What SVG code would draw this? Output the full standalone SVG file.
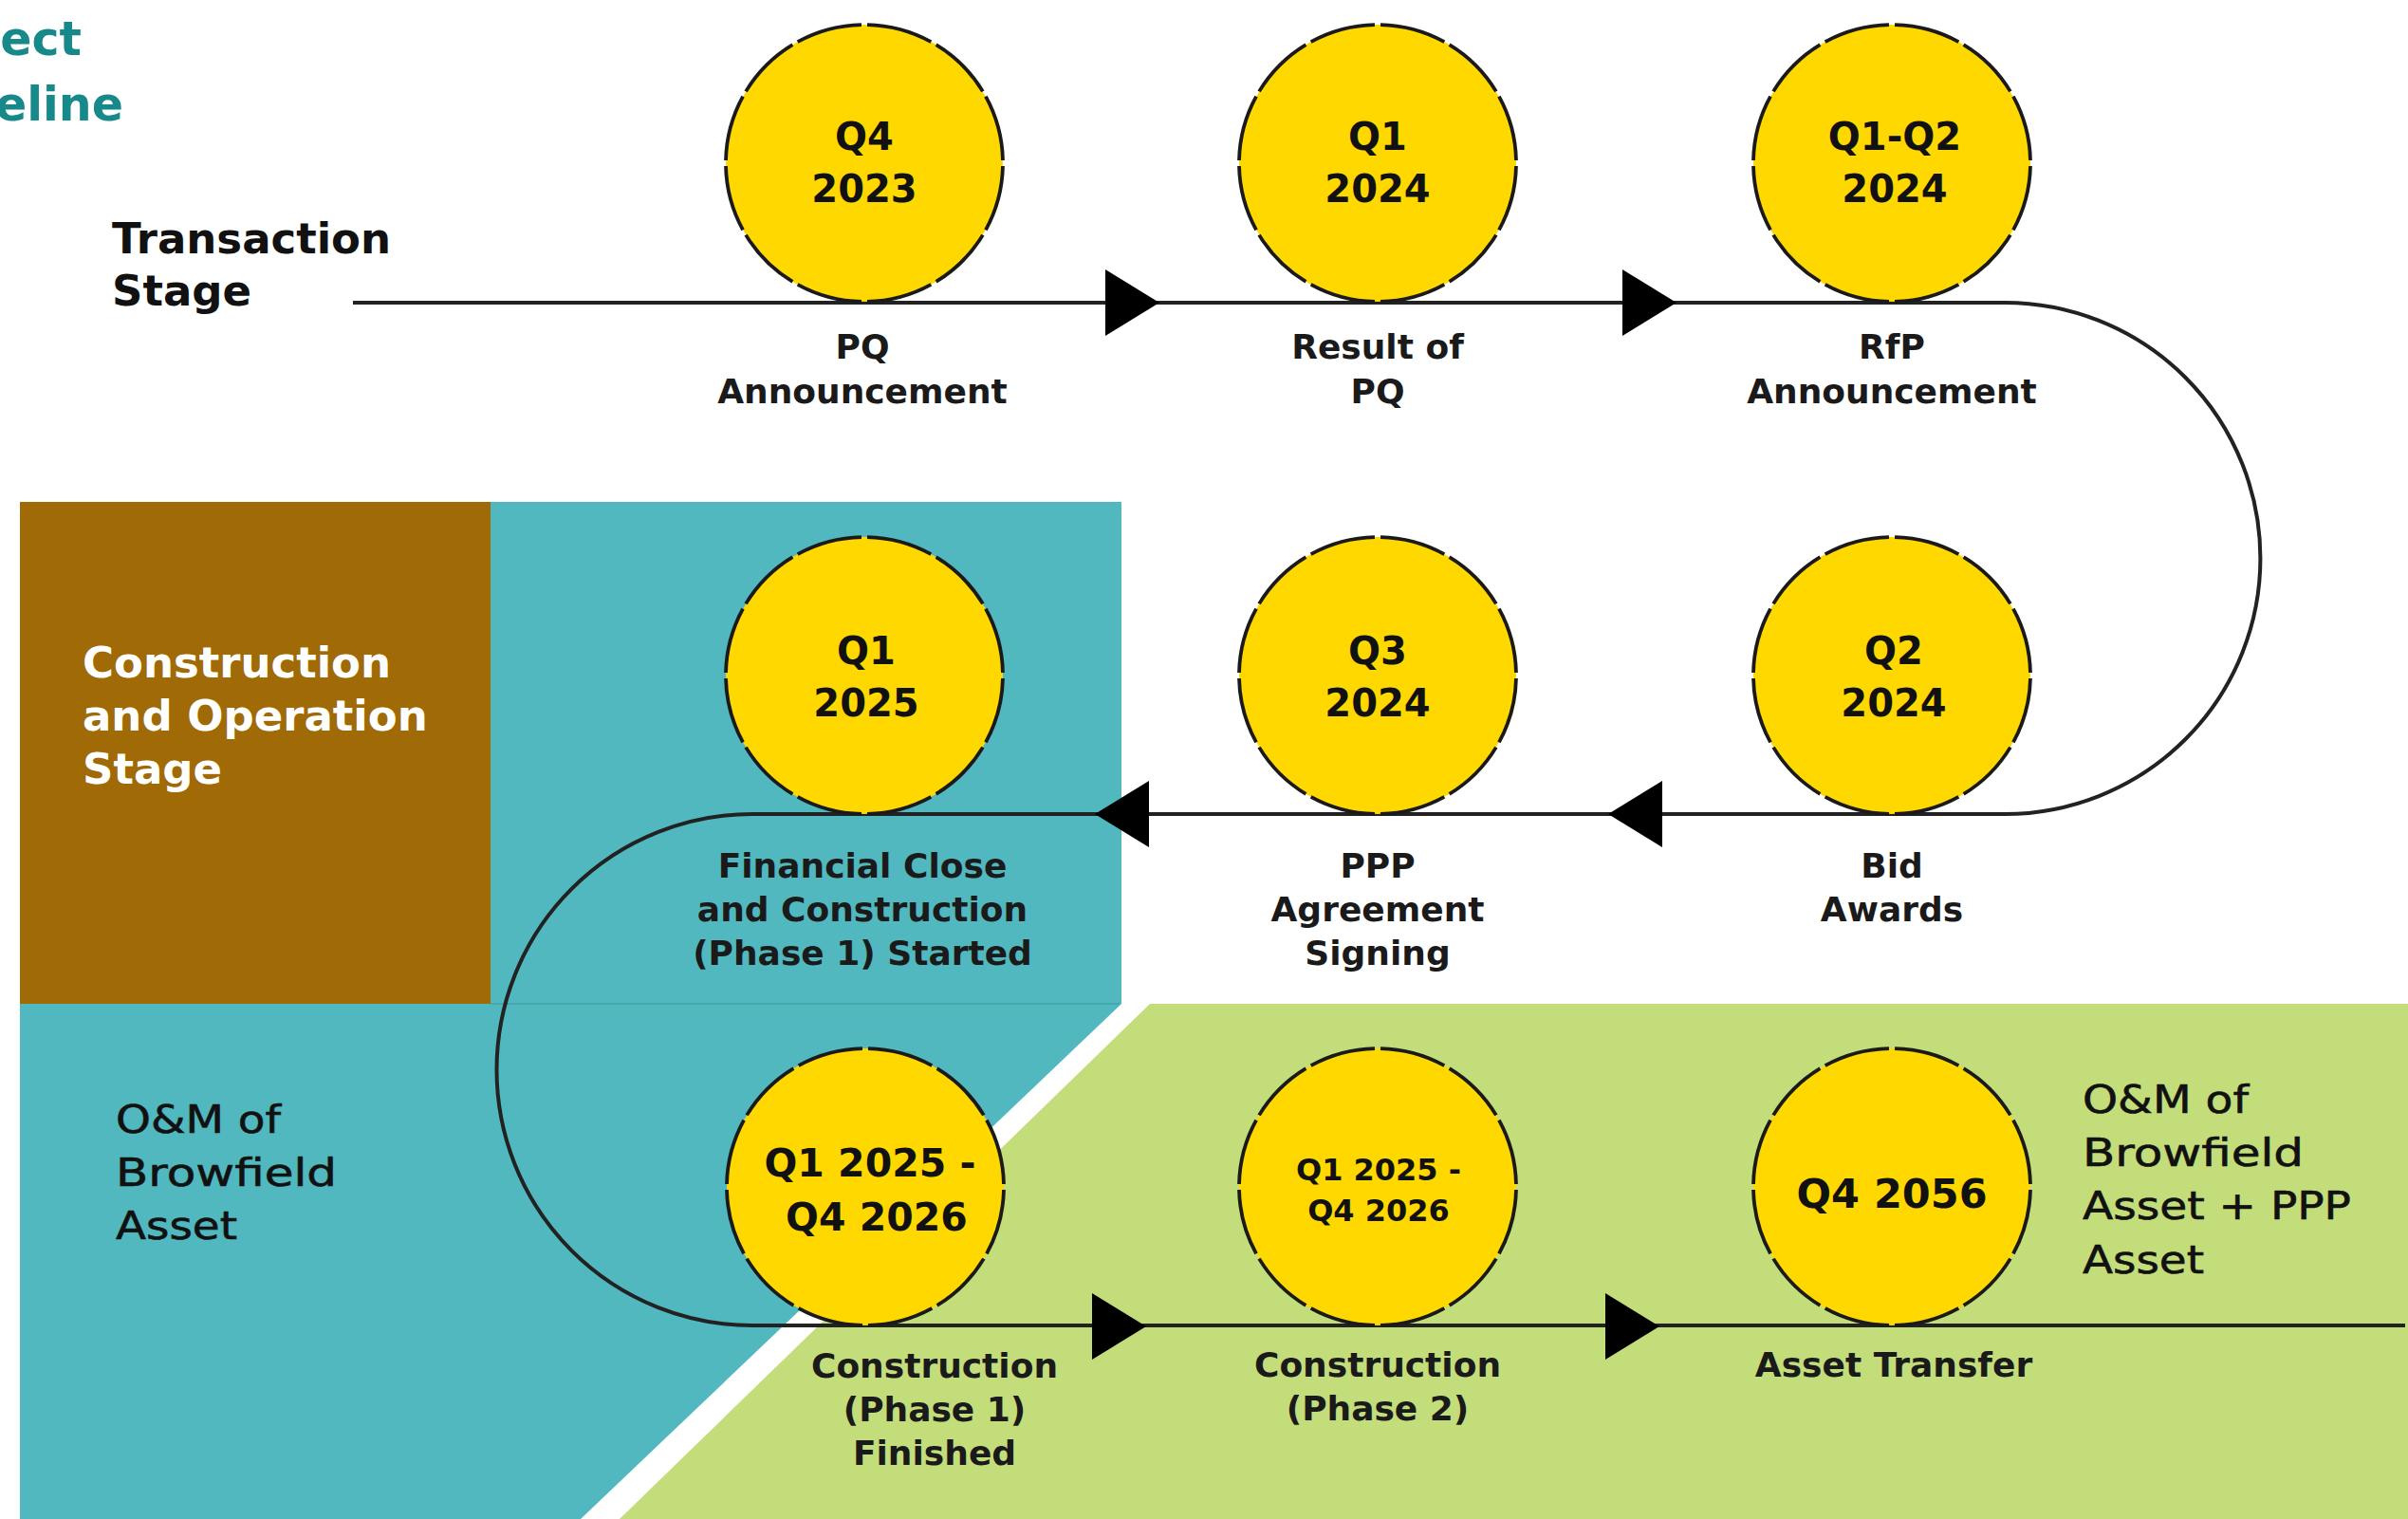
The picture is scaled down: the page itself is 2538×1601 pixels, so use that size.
<svg xmlns="http://www.w3.org/2000/svg" xmlns:xlink="http://www.w3.org/1999/xlink" width="2538" height="1601" viewBox="0 0 2538 1601">
<defs>
<style>
.bg-white{fill:#ffffff}
.brown{fill:#A06A06}
.teal{fill:#50B8BE}
.green{fill:#C4DD7B}
.title{font-family:"DejaVu Sans",sans-serif;font-weight:bold;font-size:49px;fill:#17898A}
.stage{font-family:"DejaVu Sans",sans-serif;font-weight:bold;font-size:45px;fill:#111}
.stage-w{font-family:"DejaVu Sans",sans-serif;font-weight:bold;font-size:45px;fill:#ffffff}
.om{font-family:"DejaVu Sans",sans-serif;font-size:41px;fill:#111;stroke:#111;stroke-width:0.6}
.date{font-family:"DejaVu Sans",sans-serif;font-weight:bold;font-size:40px;fill:#111;text-anchor:middle}
.label{font-family:"DejaVu Sans",sans-serif;font-weight:bold;font-size:36px;fill:#1a1a1a;text-anchor:middle}
.node circle{fill:#FFD800;stroke:#1a1a1a;stroke-width:3.8;stroke-dasharray:92 8;stroke-dashoffset:96}
.conn{fill:none;stroke:#222;stroke-width:4}
.arrow{fill:#000}
</style>
<path id="arrR" d="M0,-35 L57,0 L0,35 Z"/>
</defs>
<rect class="bg-white" x="0" y="0" width="2538" height="1601"/>

<g id="backgrounds">
<polygon class="teal" points="21,529 1182,529 1182,1058 612,1601 21,1601"/>
<rect class="brown" x="21" y="529" width="496" height="529"/>
<line x1="517" y1="1058" x2="1180" y2="1058" stroke="#45A6AC" stroke-width="2"/>
<polygon class="green" points="1212,1058 2538,1058 2538,1601 653,1601"/>
</g>

<g id="titles">
<text class="title" x="86" y="58" text-anchor="end">ect</text>
<text class="title" x="130" y="127" text-anchor="end">eline</text>
<g id="transaction-stage">
<text class="stage" x="118" y="267">Transaction</text>
<text class="stage" x="118" y="322">Stage</text>
</g>
<g id="construction-operation-stage">
<text class="stage-w" x="87" y="714">Construction</text>
<text class="stage-w" x="87" y="770">and Operation</text>
<text class="stage-w" x="87" y="826">Stage</text>
</g>
<g id="om-browfield">
<text class="om" x="122" y="1194" textLength="174" lengthAdjust="spacingAndGlyphs">O&amp;M of</text>
<text class="om" x="122" y="1250" textLength="233" lengthAdjust="spacingAndGlyphs">Browfield</text>
<text class="om" x="122" y="1306" textLength="128" lengthAdjust="spacingAndGlyphs">Asset</text>
</g>
<g id="om-browfield-ppp">
<text class="om" x="2195" y="1173" textLength="175" lengthAdjust="spacingAndGlyphs">O&amp;M of</text>
<text class="om" x="2195" y="1229" textLength="233" lengthAdjust="spacingAndGlyphs">Browfield</text>
<text class="om" x="2195" y="1285" textLength="283" lengthAdjust="spacingAndGlyphs">Asset + PPP</text>
<text class="om" x="2195" y="1342" textLength="128" lengthAdjust="spacingAndGlyphs">Asset</text>
</g>
</g>

<g id="connectors">
<path class="conn" d="M372,319 H2113 A269.5,269.5 0 0 1 2113,858 H793 A269.5,269.5 0 0 0 793,1397 H2535"/>
<use href="#arrR" class="arrow" transform="translate(1165,319)"/>
<use href="#arrR" class="arrow" transform="translate(1710,319)"/>
<use href="#arrR" class="arrow" transform="translate(1211,858) scale(-1,1)"/>
<use href="#arrR" class="arrow" transform="translate(1752,858) scale(-1,1)"/>
<use href="#arrR" class="arrow" transform="translate(1151,1398)"/>
<use href="#arrR" class="arrow" transform="translate(1692,1398)"/>
</g>

<g id="node-pq-announcement" class="node">
<circle cx="911" cy="172" r="146" pathLength="1200"/>
<text class="date" x="911" y="158">Q4</text>
<text class="date" x="911" y="213">2023</text>
<text class="label" x="909" y="378">PQ</text>
<text class="label" x="909" y="425">Announcement</text>
</g>
<g id="node-result-pq" class="node">
<circle cx="1452" cy="172" r="146" pathLength="1200"/>
<text class="date" x="1452" y="158">Q1</text>
<text class="date" x="1452" y="213">2024</text>
<text class="label" x="1452" y="378">Result of</text>
<text class="label" x="1452" y="425">PQ</text>
</g>
<g id="node-rfp-announcement" class="node">
<circle cx="1994" cy="172" r="146" pathLength="1200"/>
<text class="date" x="1997" y="158">Q1-Q2</text>
<text class="date" x="1997" y="213">2024</text>
<text class="label" x="1994" y="378">RfP</text>
<text class="label" x="1994" y="425">Announcement</text>
</g>

<g id="node-bid-awards" class="node">
<circle cx="1994" cy="712" r="146" pathLength="1200"/>
<text class="date" x="1996" y="700">Q2</text>
<text class="date" x="1996" y="755">2024</text>
<text class="label" x="1994" y="925">Bid</text>
<text class="label" x="1994" y="971">Awards</text>
</g>
<g id="node-ppp-signing" class="node">
<circle cx="1452" cy="712" r="146" pathLength="1200"/>
<text class="date" x="1452" y="700">Q3</text>
<text class="date" x="1452" y="755">2024</text>
<text class="label" x="1452" y="925">PPP</text>
<text class="label" x="1452" y="971">Agreement</text>
<text class="label" x="1452" y="1017">Signing</text>
</g>
<g id="node-financial-close" class="node">
<circle cx="911" cy="712" r="146" pathLength="1200"/>
<text class="date" x="913" y="700">Q1</text>
<text class="date" x="913" y="755">2025</text>
<text class="label" x="909" y="925">Financial Close</text>
<text class="label" x="909" y="971">and Construction</text>
<text class="label" x="909" y="1017">(Phase 1) Started</text>
</g>

<g id="node-construction-phase1" class="node">
<circle cx="912" cy="1251" r="146" pathLength="1200"/>
<text class="date" x="917" y="1240" style="font-size:41px">Q1 2025 -</text>
<text class="date" x="924" y="1297" style="font-size:41px">Q4 2026</text>
<text class="label" x="985" y="1452">Construction</text>
<text class="label" x="985" y="1498">(Phase 1)</text>
<text class="label" x="985" y="1544">Finished</text>
</g>
<g id="node-construction-phase2" class="node">
<circle cx="1452" cy="1251" r="146" pathLength="1200"/>
<text class="date" x="1453" y="1244" style="font-size:32px">Q1 2025 -</text>
<text class="date" x="1453" y="1287" style="font-size:32px">Q4 2026</text>
<text class="label" x="1452" y="1451">Construction</text>
<text class="label" x="1452" y="1497">(Phase 2)</text>
</g>
<g id="node-asset-transfer" class="node">
<circle cx="1994" cy="1251" r="146" pathLength="1200"/>
<text class="date" x="1994" y="1273" style="font-size:43px">Q4 2056</text>
<text class="label" x="1996" y="1451">Asset Transfer</text>
</g>
</svg>
